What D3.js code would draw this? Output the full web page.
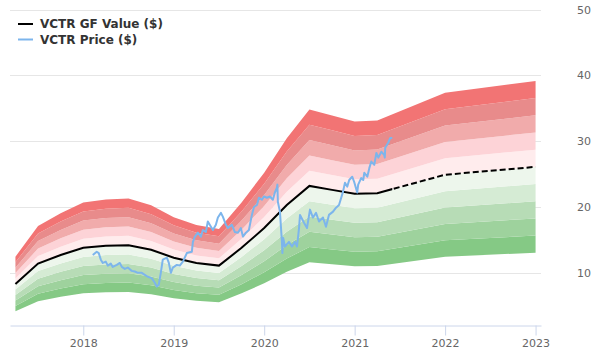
<!DOCTYPE html>
<html>
<head>
<meta charset="utf-8">
<script src="https://cdn.jsdelivr.net/npm/d3@7"></script>
<style>
  html, body { margin: 0; padding: 0; background: #fff; }
  svg { display: block; font-family: "DejaVu Sans", sans-serif; }
</style>
</head>
<body>
<script>
// ---- data ----
const gfDates = [2017.25, 2017.5, 2017.75, 2018.0, 2018.25, 2018.5, 2018.75, 2019.0, 2019.25, 2019.5,
                 2019.75, 2020.0, 2020.25, 2020.5, 2020.75, 2021.0, 2021.25, 2022.0, 2023.0];
const gfValues = [8.3, 11.4, 12.7, 13.8, 14.1, 14.2, 13.5, 12.3, 11.5, 11.1,
                  13.8, 16.8, 20.3, 23.2, 22.6, 22.0, 22.1, 24.9, 26.1];

const priceDates = [2018.105, 2018.149, 2018.171, 2018.194, 2018.216, 2018.249, 2018.271, 2018.304, 2018.326, 2018.371,
  2018.404, 2018.426, 2018.459, 2018.492, 2018.536, 2018.570, 2018.603, 2018.647, 2018.680, 2018.713,
  2018.757, 2018.791, 2018.813, 2018.835, 2018.857, 2018.879, 2018.924, 2018.946, 2018.968, 2018.990,
  2019.034, 2019.067, 2019.101, 2019.145, 2019.200, 2019.212, 2019.234, 2019.267, 2019.300, 2019.322,
  2019.355, 2019.377, 2019.411, 2019.433, 2019.466, 2019.488, 2019.522, 2019.544, 2019.577, 2019.599,
  2019.643, 2019.676, 2019.710, 2019.742, 2019.765, 2019.798, 2019.831, 2019.864, 2019.887, 2019.920,
  2019.942, 2019.975, 2019.997, 2020.031, 2020.063, 2020.096, 2020.118, 2020.140, 2020.146, 2020.151,
  2020.174, 2020.196, 2020.201, 2020.210, 2020.229, 2020.274, 2020.307, 2020.340, 2020.363, 2020.385,
  2020.396, 2020.440, 2020.473, 2020.506, 2020.539, 2020.573, 2020.606, 2020.650, 2020.683, 2020.716,
  2020.761, 2020.794, 2020.827, 2020.871, 2020.893, 2020.918, 2020.940, 2020.973, 2020.995, 2021.028,
  2021.039, 2021.073, 2021.095, 2021.107, 2021.140, 2021.162, 2021.184, 2021.217, 2021.240, 2021.262,
  2021.295, 2021.327, 2021.333, 2021.338, 2021.372, 2021.394, 2021.416];
const priceValues = [12.7, 13.2, 13.0, 12.0, 11.5, 11.7, 11.1, 11.4, 10.9, 11.2,
  11.5, 10.9, 10.6, 10.8, 10.3, 10.2, 10.0, 10.0, 9.7, 9.4,
  9.2, 8.5, 7.9, 8.2, 10.0, 12.0, 12.3, 11.5, 10.0, 10.8,
  11.2, 11.1, 11.7, 13.0, 13.2, 14.7, 15.5, 16.1, 15.5, 16.5,
  16.2, 17.8, 17.0, 16.5, 17.3, 18.4, 19.1, 18.5, 17.3, 16.8,
  17.3, 16.2, 16.1, 16.8, 15.5, 16.1, 16.5, 18.8, 20.0, 20.3,
  21.4, 21.1, 21.6, 21.4, 21.6, 21.1, 22.2, 22.9, 23.4, 20.8,
  19.3, 14.7, 13.0, 15.3, 14.0, 14.7, 14.0, 14.7, 14.0, 16.8,
  18.8, 17.6, 16.8, 19.6, 18.4, 19.1, 17.8, 18.4, 17.0, 18.8,
  19.3, 19.9, 20.3, 22.3, 23.7, 23.1, 24.1, 24.6, 23.8, 22.2,
  23.4, 24.4, 24.1, 25.2, 24.6, 25.9, 26.9, 26.4, 28.2, 27.5,
  28.4, 27.9, 27.5, 29.0, 29.8, 30.5, 30.5];

const bandMultipliers = [0.5, 0.6, 0.7, 0.8, 0.9, 1.0, 1.1, 1.2, 1.3, 1.4, 1.5];
const xTicks = [2018, 2019, 2020, 2021, 2022, 2023];
const yTicks = [10, 20, 30, 40, 50];
const legendLabels = ["VCTR GF Value ($)", "VCTR Price ($)"];

// ---- styles ----
const bandColors = ["#85c985", "#9ed29d", "#b7dcb6", "#d5ebd4", "#edf6ec",
                    "#ffeced", "#fdd3d7", "#f1abab", "#e88b8b", "#f27474"];
const priceColor = "#7cb5ec";

const W = 600, H = 360;
const svg = d3.select("body").append("svg").attr("width", W).attr("height", H);

const x = d3.scaleLinear().domain([2017.19, 2023.06]).range([10, 541]);
const y = d3.scaleLinear().domain([2, 50]).range([325.5, 9.5]);

// grid
svg.append("g").selectAll("line").data(yTicks).join("line")
  .attr("x1", 10).attr("x2", 541)
  .attr("y1", d => Math.round(y(d)) + 0.5).attr("y2", d => Math.round(y(d)) + 0.5)
  .attr("stroke", "#e6e6e6").attr("stroke-width", 1);

// y labels (right side)
svg.append("g").selectAll("text").data(yTicks).join("text")
  .attr("x", 577).attr("y", d => y(d) + 4)
  .attr("font-size", 11).attr("fill", "#666")
  .text(d => d);

// bands
const gf = gfDates.map((d, i) => ({ date: d, v: gfValues[i] }));
for (let b = 0; b < bandMultipliers.length - 1; b++) {
  const lo = bandMultipliers[b], hi = bandMultipliers[b + 1];
  const area = d3.area()
    .x(d => x(d.date))
    .y0(d => y(d.v * lo))
    .y1(d => y(d.v * hi));
  svg.append("path").datum(gf).attr("d", area).attr("fill", bandColors[b]);
}

// GF value line: solid until last price date, dashed after
const lastPriceDate = priceDates[priceDates.length - 1];
const defs = svg.append("defs");
defs.append("clipPath").attr("id", "clipSolid").append("rect")
  .attr("x", 0).attr("y", 0).attr("width", x(lastPriceDate)).attr("height", H);
defs.append("clipPath").attr("id", "clipDash").append("rect")
  .attr("x", x(lastPriceDate)).attr("y", 0).attr("width", W - x(lastPriceDate)).attr("height", H);

const gfLine = d3.line().x(d => x(d.date)).y(d => y(d.v));
svg.append("path").datum(gf).attr("d", gfLine)
  .attr("fill", "none").attr("stroke", "#000").attr("stroke-width", 2)
  .attr("clip-path", "url(#clipSolid)");
svg.append("path").datum(gf).attr("d", gfLine)
  .attr("fill", "none").attr("stroke", "#000").attr("stroke-width", 2)
  .attr("stroke-dasharray", "6,3")
  .attr("clip-path", "url(#clipDash)");

// price line
const price = priceDates.map((d, i) => ({ date: d, v: priceValues[i] }));
svg.append("path").datum(price)
  .attr("d", d3.line().x(d => x(d.date)).y(d => y(d.v)))
  .attr("fill", "none").attr("stroke", priceColor).attr("stroke-width", 2)
  .attr("stroke-linejoin", "round");

// x axis
const xAxis = svg.append("g").attr("transform", "translate(0,325.5)")
  .call(d3.axisBottom(x).tickValues(xTicks).tickFormat(d3.format("d")).tickSize(10).tickSizeOuter(0).tickPadding(4));
xAxis.select(".domain").attr("stroke", "#ccd6eb");
xAxis.selectAll(".tick line").attr("stroke", "#ccd6eb");
xAxis.selectAll(".tick text").attr("fill", "#666").attr("font-size", 11)
  .attr("font-family", "DejaVu Sans, sans-serif");

// legend
const legendColors = ["#000", priceColor];
const lg = svg.append("g");
legendLabels.forEach((t, i) => {
  const ly = 24 + i * 15.5;
  lg.append("line").attr("x1", 18).attr("x2", 33).attr("y1", ly).attr("y2", ly)
    .attr("stroke", legendColors[i]).attr("stroke-width", 2);
  lg.append("text").attr("x", 40).attr("y", ly + 4)
    .attr("font-size", 12).attr("font-weight", "bold").attr("fill", "#333")
    .text(t);
});
</script>
</body>
</html>
